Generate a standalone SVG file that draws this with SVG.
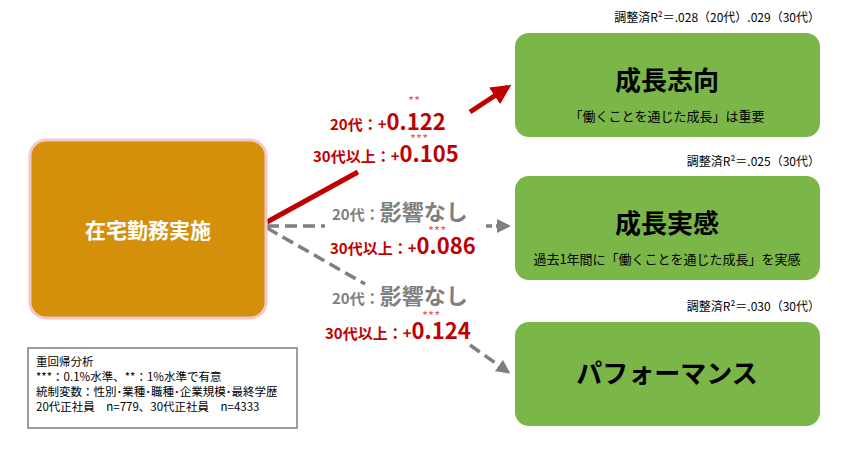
<svg xmlns="http://www.w3.org/2000/svg" width="846" height="450" viewBox="0 0 846 450">
<style>
text{font-family:"Noto Sans CJK JP","Noto Sans",sans-serif}
.g{fill:#7AB648}
.t{fill:#000;font-weight:bold;font-size:26px;text-anchor:middle}
.s{fill:#000;font-size:13px;text-anchor:middle}
.r{fill:#C00000;font-weight:bold;font-size:15px}
.rb{font-size:22px}
.gr{fill:#7F7F7F;font-weight:bold;font-size:15px}
.st{fill:#E06060;font-size:13px}
.adj{fill:#000;font-size:12px;text-anchor:end}
.lg{fill:#000;font-size:11.5px}
</style>
<defs>
<marker id="ar" viewBox="0 0 10 10" refX="8" refY="5" markerWidth="4" markerHeight="4" orient="auto"><path d="M0,0L10,5L0,10z" fill="#C00000"/></marker>
<marker id="ag" viewBox="0 0 10 10" refX="8" refY="5" markerWidth="4" markerHeight="4" orient="auto"><path d="M0,0L10,5L0,10z" fill="#7F7F7F"/></marker>
</defs>
<g id="connectors">
<line x1="267" y1="222" x2="358" y2="172" stroke="#C00000" stroke-width="5"/>
<line x1="470" y1="112" x2="508" y2="87" stroke="#C00000" stroke-width="5" marker-end="url(#ar)"/>
<line x1="267" y1="226" x2="325" y2="226" stroke="#7F7F7F" stroke-width="3.5" stroke-dasharray="12,6"/>
<line x1="486" y1="226" x2="508" y2="226" stroke="#7F7F7F" stroke-width="3.5" stroke-dasharray="6,4" marker-end="url(#ag)"/>
<line x1="267" y1="228" x2="365" y2="284" stroke="#7F7F7F" stroke-width="3.5" stroke-dasharray="12,6"/>
<line x1="470" y1="345" x2="508" y2="372" stroke="#7F7F7F" stroke-width="3.5" stroke-dasharray="12,6" marker-end="url(#ag)"/>
</g>
<g id="n-home">
<rect x="30" y="140" width="236" height="178" rx="16" fill="#D4900A" stroke="#F4C8C8" stroke-width="3"/>
<text x="148" y="238" font-size="21" font-weight="bold" fill="#fff" text-anchor="middle">在宅勤務実施</text>
</g>
<g id="n1">
<rect class="g" x="515" y="33" width="305" height="104" rx="14"/>
<text class="t" x="667" y="90">成長志向</text>
<text class="s" x="667" y="121">「働くことを通じた成長」は重要</text>
<text class="adj" x="820" y="22">調整済R²＝.028（20代）.029（30代）</text>
</g>
<g id="n2">
<rect class="g" x="515" y="176" width="305" height="104" rx="14"/>
<text class="t" x="667" y="233">成長実感</text>
<text class="s" x="667" y="264">過去1年間に「働くことを通じた成長」を実感</text>
<text class="adj" x="820" y="166">調整済R²＝.025（30代）</text>
</g>
<g id="n3">
<rect class="g" x="515" y="322" width="305" height="104" rx="14"/>
<text class="t" x="667" y="383">パフォーマンス</text>
<text class="adj" x="820" y="311">調整済R²＝.030（30代）</text>
</g>
<g id="labels">
<text class="st" x="408" y="106">**</text>
<text class="r" x="330" y="130">20代：+<tspan class="rb">0.122</tspan></text>
<text class="st" x="410" y="144">***</text>
<text class="r" x="313" y="162">30代以上：+<tspan class="rb">0.105</tspan></text>
<text class="gr" x="332" y="220">20代：<tspan font-size="22">影響なし</tspan></text>
<text class="st" x="428" y="236">***</text>
<text class="r" x="330" y="254">30代以上：+<tspan class="rb">0.086</tspan></text>
<text class="gr" x="332" y="304">20代：<tspan font-size="22">影響なし</tspan></text>
<text class="st" x="422" y="321">***</text>
<text class="r" x="325" y="339">30代以上：+<tspan class="rb">0.124</tspan></text>
</g>
<g id="legend">
<rect x="28" y="348" width="269" height="80" fill="#fff" stroke="#7F7F7F" stroke-width="1.5"/>
<text class="lg" x="36" y="366">重回帰分析</text>
<text class="lg" x="36" y="381">***：0.1%水準、**：1%水準で有意</text>
<text class="lg" x="36" y="396">統制変数：性別･業種･職種･企業規模･最終学歴</text>
<text class="lg" x="36" y="411">20代正社員　n=779、30代正社員　n=4333</text>
</g>
</svg>
